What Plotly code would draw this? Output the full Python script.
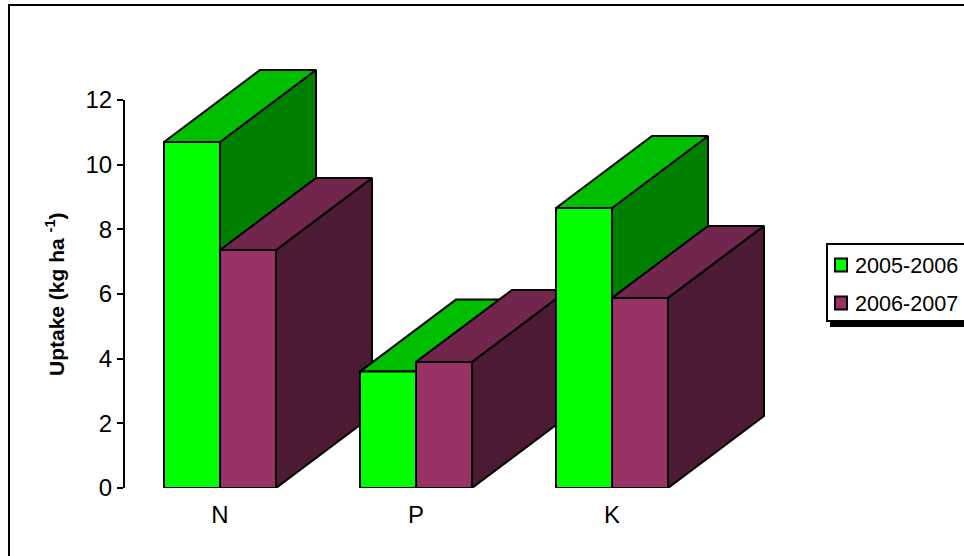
import plotly.graph_objects as go

# Nutrient uptake per season
nutrients = ["N", "P", "K"]
seasons = ["2005-2006", "2006-2007"]
uptake_2005 = [10.7, 3.6, 8.66]
uptake_2006 = [7.36, 3.9, 5.88]
y_ticks = [0, 2, 4, 6, 8, 10, 12]

# Shades of each season: front, top and side face
greens = ["#00FF00", "#00BF00", "#008000"]
maroons = ["#993366", "#73264D", "#4D1A33"]

W, H = 964, 556
LEFT, RIGHT, TOP, BOTTOM = 124, 800, 40, 488
X_UNIT = 196
Y_UNIT = 388 / 12
BAR_W = 56 / X_UNIT
DEPTH_X = 96 / X_UNIT
DEPTH_Y = 72 / Y_UNIT
X0 = 1 - 96 / X_UNIT  # axis start, so that N sits 96 px right of the y axis


def px(x):
    return (x - LEFT) / (RIGHT - LEFT)


def py(y):
    return (BOTTOM - y) / (BOTTOM - TOP)


fig = go.Figure()


def face(xs, ys, color):
    fig.add_trace(go.Scatter(
        x=xs + xs[:1], y=ys + ys[:1], mode="lines", fill="toself",
        fillcolor=color, line=dict(color="black", width=2),
        showlegend=False, hoverinfo="skip",
    ))


def box(left, value, shades):
    right = left + BAR_W
    face([right, right + DEPTH_X, right + DEPTH_X, right],
         [0, DEPTH_Y, value + DEPTH_Y, value], shades[2])
    face([left, right, right + DEPTH_X, left + DEPTH_X],
         [value, value, value + DEPTH_Y, value + DEPTH_Y], shades[1])
    face([left, right, right, left], [0, 0, value, value], shades[0])


# Painted left to right so nearer blocks cover the ones behind them
for i, _ in enumerate(nutrients):
    center = i + 1
    box(center - BAR_W, uptake_2005[i], greens)
    box(center, uptake_2006[i], maroons)


def rect(x0, y0, x1, y1, layer="below", **kw):
    return dict(type="rect", xref="paper", yref="paper", layer=layer,
                x0=px(x0), x1=px(x1), y0=py(y0), y1=py(y1), **kw)


shapes = [
    # Chart frame
    rect(9, 5, 1100, 700, line=dict(color="black", width=2), fillcolor="white"),
    # Legend shadow and box
    rect(830, 250, 1100, 327, line=dict(width=0), fillcolor="black"),
    rect(827, 244, 1100, 321, line=dict(color="black", width=2), fillcolor="white"),
    # Value axis line, stopping at the top tick
    dict(type="line", xref="x domain", yref="y", x0=0, x1=0,
         y0=y_ticks[0], y1=y_ticks[-1], line=dict(color="black", width=2)),
]

annotations = [dict(
    text="<b>Uptake (kg ha <sup>-1</sup>)</b>", textangle=-90,
    xref="paper", yref="y", x=px(55), y=6, showarrow=False,
    xanchor="center", yanchor="middle", font=dict(size=21),
)]

# Legend rows: swatch plus season label
for row, (name, shades) in enumerate(zip(seasons, (greens, maroons))):
    row_y = 265 + 38 * row
    shapes.append(rect(835, row_y - 6.5, 847, row_y + 6.5, layer="above",
                       fillcolor=shades[0], line=dict(color="black", width=2)))
    annotations.append(dict(
        text=name, xref="paper", yref="paper", x=px(854), y=py(row_y),
        xanchor="left", yanchor="middle", showarrow=False, borderpad=0,
        font=dict(size=21.6),
    ))

fig.update_layout(
    width=W, height=H, autosize=False, showlegend=False,
    margin=dict(l=LEFT, r=W - RIGHT, t=TOP, b=H - BOTTOM, autoexpand=False),
    paper_bgcolor="white", plot_bgcolor="rgba(0,0,0,0)",
    font=dict(family="Liberation Sans, Arial, sans-serif", color="black"),
    shapes=shapes,
    annotations=annotations,
    xaxis=dict(range=[X0, X0 + (RIGHT - LEFT) / X_UNIT], tickvals=[1, 2, 3],
               ticktext=nutrients, ticks="", showgrid=False, zeroline=False,
               showline=False, tickfont=dict(size=24), ticklabelstandoff=10),
    yaxis=dict(range=[0, (BOTTOM - TOP) / Y_UNIT], tickvals=y_ticks,
               ticks="outside", ticklen=6, tickwidth=2, tickcolor="black",
               showline=False, showgrid=False, zeroline=False,
               tickfont=dict(size=24)),
)

fig.write_html("out.html")
